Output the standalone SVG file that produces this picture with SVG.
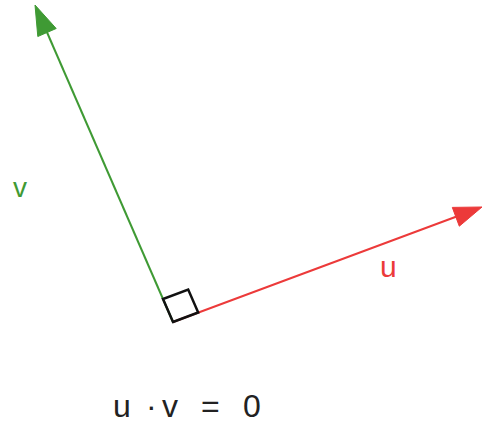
<svg xmlns="http://www.w3.org/2000/svg" width="485" height="429" viewBox="0 0 485 429">
<style>
.lbl{font-family:"Liberation Sans",Arial,sans-serif;}
.g{stroke:#3f9a34;fill:#3f9a34;}
.r{stroke:#ec3a3a;fill:#ec3a3a;}
</style>
<rect width="485" height="429" fill="#ffffff"/>
<g id="connectors">
<g id="vector-v">
<line class="g" x1="173" y1="322" x2="46" y2="30" stroke-width="2"/>
<polygon class="g" points="35,5 56.2,28.5 37.8,36.5" stroke-width="1"/>
</g>
<g id="vector-u">
<line class="r" x1="173" y1="322" x2="458" y2="216" stroke-width="2"/>
<polygon class="r" points="482,207 459.3,226.2 452.3,207.4" stroke-width="1"/>
</g>
</g>
<g id="right-angle">
<polygon points="173,322 198.2,312.5 188.2,289.6 163,299" fill="none" stroke="#111" stroke-width="2.5"/>
</g>
<g id="label-v"><text class="lbl" x="13" y="197" font-size="28" fill="#3f9a34">v</text></g>
<g id="label-u"><text class="lbl" x="380" y="277" font-size="30" fill="#ec3a3a">u</text></g>
<g id="equation"><text class="lbl" y="417" font-size="32" fill="#222"><tspan x="113">u</tspan><tspan x="146">·</tspan><tspan x="162">v</tspan><tspan x="201">=</tspan><tspan x="243">0</tspan></text></g>
</svg>
